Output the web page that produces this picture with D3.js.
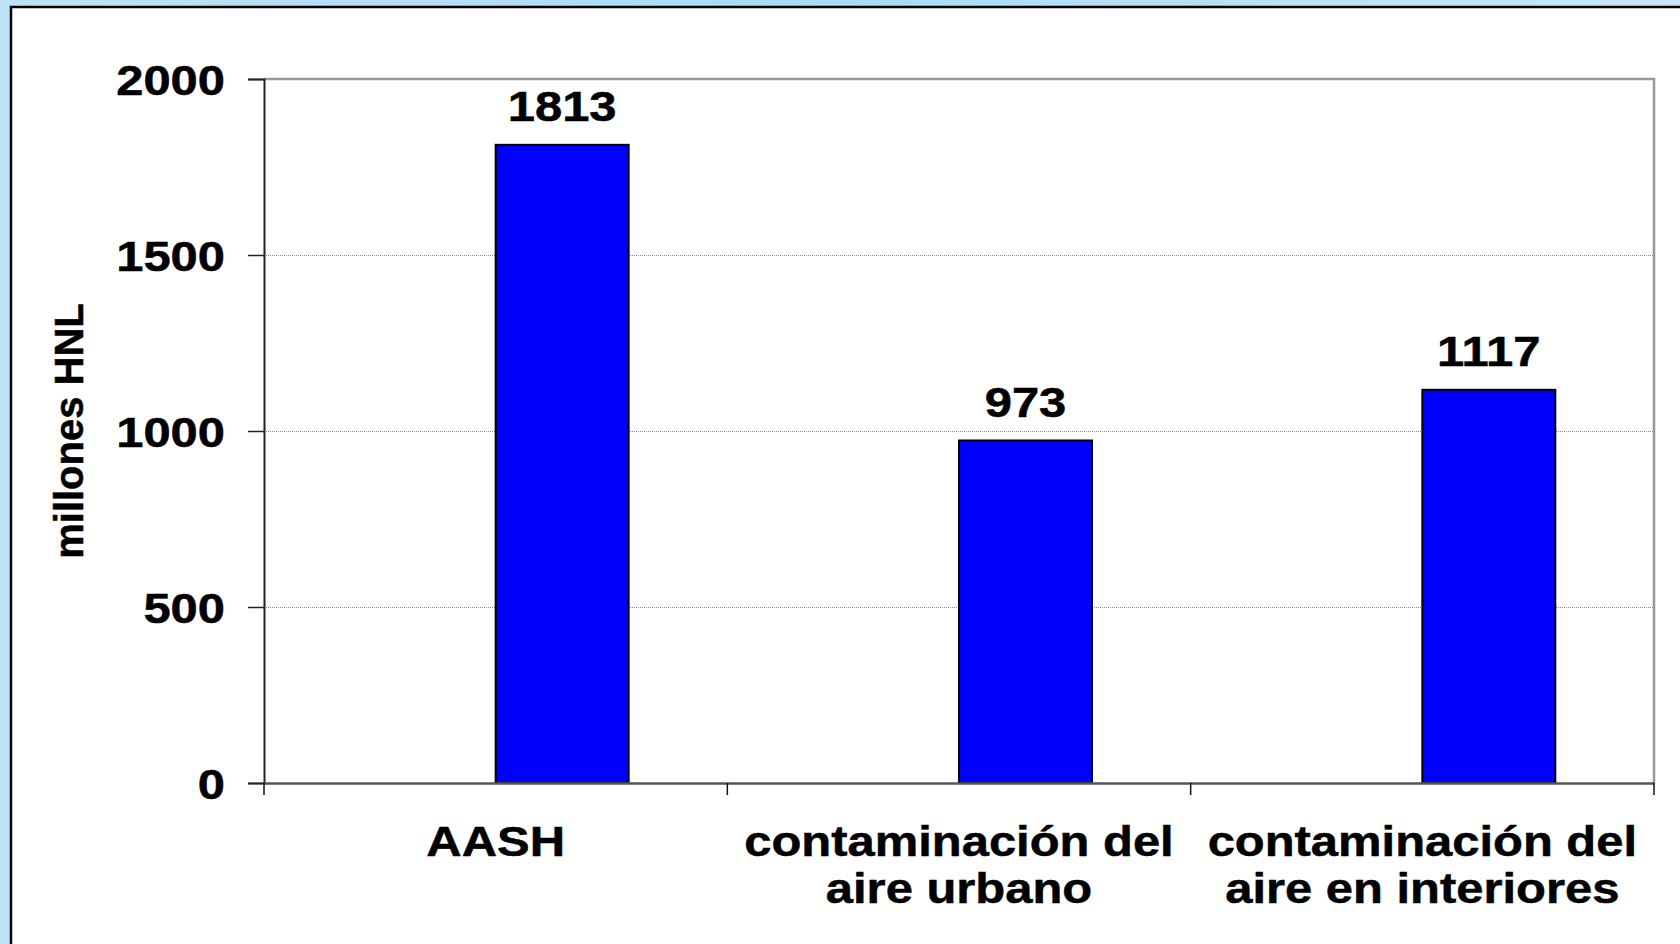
<!DOCTYPE html>
<html>
<head>
<meta charset="utf-8">
<script src="https://cdn.jsdelivr.net/npm/d3@7.9.0/dist/d3.min.js"></script>
<style>
  html, body { margin: 0; padding: 0; }
  body { width: 1680px; height: 944px; overflow: hidden; background: #bfe3f6; }
  svg { display: block; }
  text { font-family: "Liberation Sans", Arial, sans-serif; font-weight: bold; fill: #000; stroke: #000; stroke-width: 0.5; }
</style>
</head>
<body>
<svg width="1680" height="944"></svg>
<script>
// chart data
const categories = ['AASH', 'contaminación del aire urbano', 'contaminación del aire en interiores'];
const categoryLines = [['AASH'], ['contaminación del', 'aire urbano'], ['contaminación del', 'aire en interiores']];
const values = [1813, 973, 1117];
const yTicks = [0, 500, 1000, 1500, 2000];
const yTitle = 'millones HNL';

const svg = d3.select('svg');
const W = 1680, H = 944;
const plot = { left: 264, right: 1654, top: 79, bottom: 783 };
const fontSize = 42;
const stretch = 1.165; // horizontal text looks stretched in the original

// background gradient + white panel
const defs = svg.append('defs');
const grad = defs.append('linearGradient').attr('id', 'bg').attr('x1', 0).attr('x2', 1).attr('y1', 0).attr('y2', 0);
grad.append('stop').attr('offset', '0%').attr('stop-color', '#bde3f7');
grad.append('stop').attr('offset', '50%').attr('stop-color', '#a9dcf3');
grad.append('stop').attr('offset', '100%').attr('stop-color', '#c9e8f6');
svg.append('rect').attr('width', W).attr('height', H).attr('fill', 'url(#bg)');
svg.append('rect').attr('x', 11).attr('y', 7).attr('width', W).attr('height', H)
  .attr('fill', '#fff').attr('stroke', '#000').attr('stroke-width', 2.5);

// scales
const x = d3.scaleBand().domain(categories).range([plot.left, plot.right]).padding(0);
const y = d3.scaleLinear().domain([0, 2000]).range([plot.bottom, plot.top]);
const barW = x.bandwidth() * 0.287;

// gridlines
svg.append('g').selectAll('line').data(yTicks.filter(d => d > 0 && d < 2000)).join('line')
  .attr('x1', plot.left).attr('x2', plot.right)
  .attr('y1', d => y(d) + 0.5).attr('y2', d => y(d) + 0.5)
  .attr('stroke', '#8c8c8c').attr('stroke-width', 1).attr('stroke-dasharray', '1,1');

// plot frame: top + right in gray
svg.append('path')
  .attr('d', `M${plot.left},${y(2000)}H${plot.right}V${plot.bottom}`)
  .attr('fill', 'none').attr('stroke', '#999').attr('stroke-width', 2.5);

// bars (start at the band centre, like an empty first series)
svg.append('g').selectAll('rect').data(values).join('rect')
  .attr('x', (d, i) => x(categories[i]) + x.bandwidth() / 2)
  .attr('y', d => y(d))
  .attr('width', barW)
  .attr('height', d => y(0) - y(d))
  .attr('fill', '#0000ff').attr('stroke', '#000').attr('stroke-width', 2);

// value labels
svg.append('g').selectAll('text').data(values).join('text')
  .attr('transform', (d, i) => `translate(${x(categories[i]) + x.bandwidth() / 2 + barW / 2},${y(d) - 24}) scale(${stretch},1)`)
  .attr('text-anchor', 'middle').attr('font-size', fontSize)
  .text(d => d);

// y axis
const yAxis = svg.append('g').attr('transform', `translate(${plot.left},0)`)
  .call(d3.axisLeft(y).tickValues(yTicks).tickSize(16).tickPadding(0).tickFormat(d3.format('d')));
yAxis.select('.domain').attr('stroke', '#222').attr('stroke-width', 2);
yAxis.selectAll('.tick line').attr('stroke', '#222').attr('stroke-width', 1.5);
yAxis.selectAll('.tick text').remove();
yAxis.selectAll('.tick').append('text')
  .attr('transform', `translate(-39,15) scale(${stretch},1)`)
  .attr('text-anchor', 'end').attr('font-size', fontSize)
  .text(d => d);

// x axis
const xAxis = svg.append('g').attr('transform', `translate(0,${plot.bottom})`)
  .call(d3.axisBottom(x).tickValues([]).tickSizeOuter(0));
xAxis.select('.domain').attr('stroke', '#555').attr('stroke-width', 2.5);
xAxis.selectAll('line.sep').data(d3.range(categories.length + 1)).join('line')
  .attr('class', 'sep')
  .attr('x1', i => plot.left + i * x.bandwidth()).attr('x2', i => plot.left + i * x.bandwidth())
  .attr('y1', 0).attr('y2', 12)
  .attr('stroke', '#111').attr('stroke-width', 1.5);

// category labels
const catG = svg.append('g').selectAll('g').data(categories).join('g')
  .attr('transform', d => `translate(${x(d) + x.bandwidth() / 2},856) scale(${stretch},1)`);
catG.selectAll('text').data((d, i) => categoryLines[i]).join('text')
  .attr('y', (d, j) => j * 47.5)
  .attr('text-anchor', 'middle').attr('font-size', fontSize)
  .text(d => d);

// y title
svg.append('text')
  .attr('transform', `translate(83,${(plot.top + plot.bottom) / 2}) rotate(-90)`)
  .attr('text-anchor', 'middle').attr('font-size', 40)
  .text(yTitle);
</script>
</body>
</html>
